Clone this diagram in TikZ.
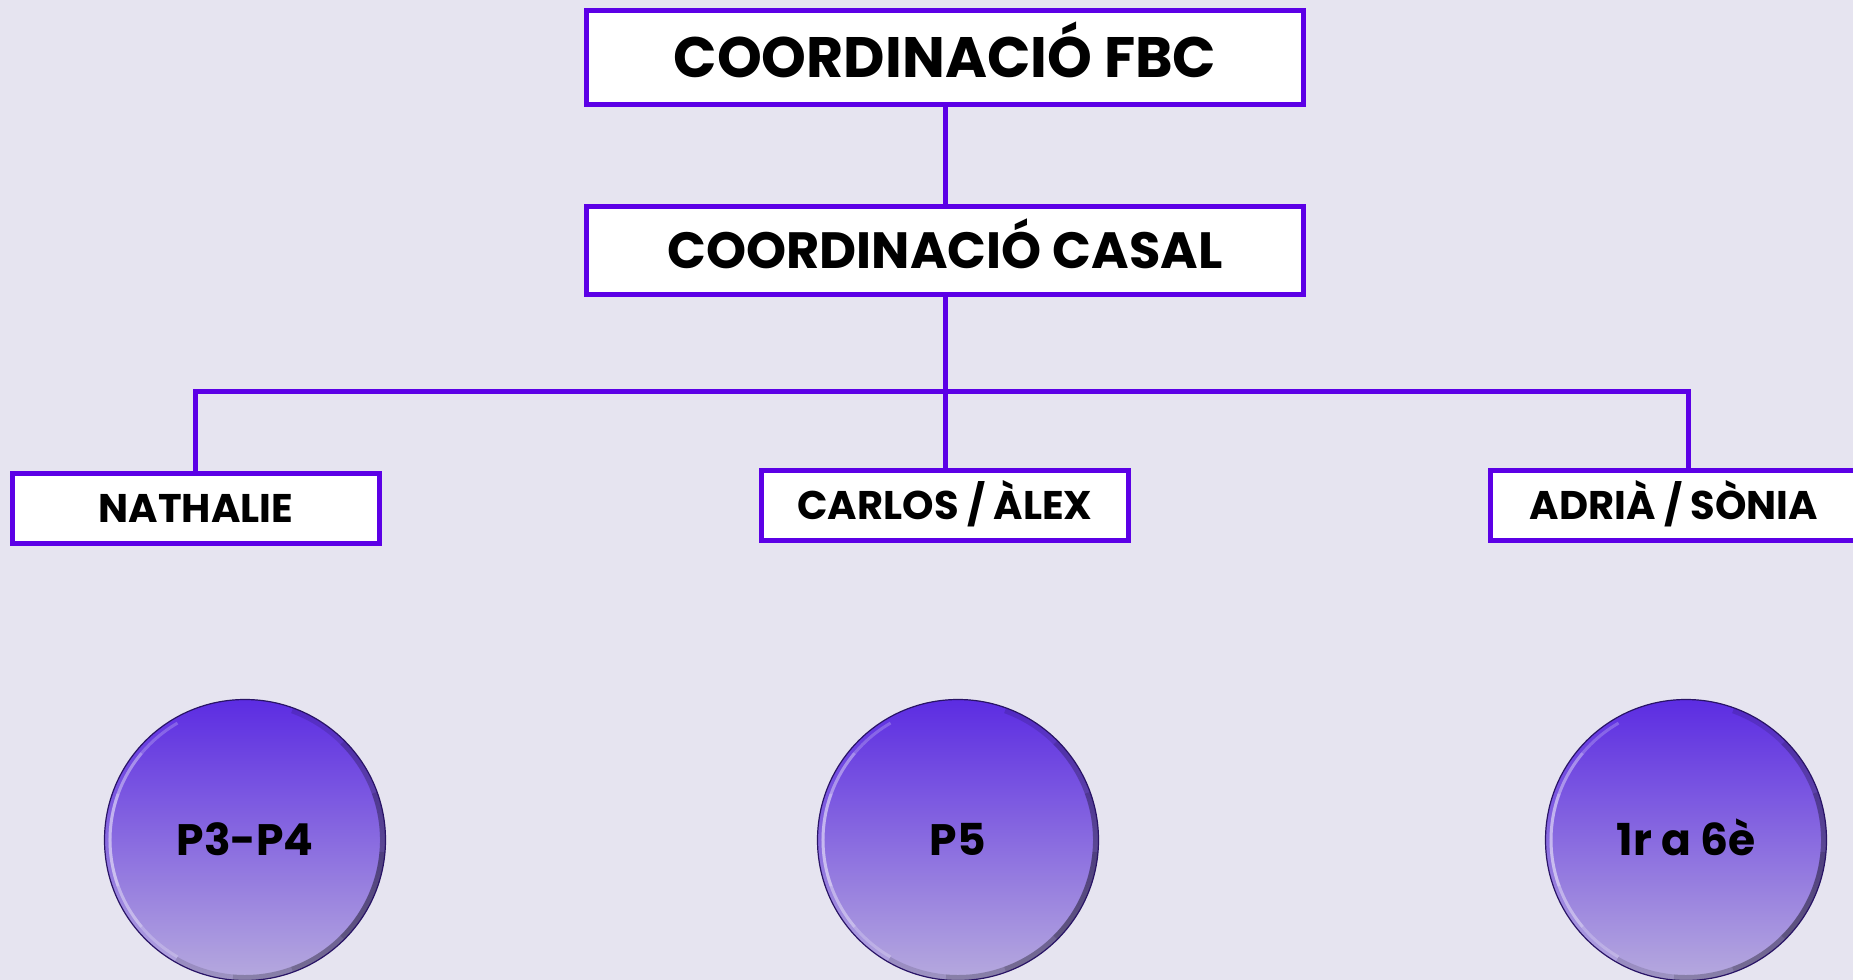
\documentclass[tikz,border=0pt]{standalone}
\usepackage{fontspec}
\setmainfont{Poppins}
\definecolor{bgcol}{RGB}{230,228,240}
\definecolor{linecol}{RGB}{92,0,230}
\definecolor{balltop}{RGB}{92,44,226}
\definecolor{ballbot}{RGB}{182,170,222}
\tikzset{
  orgbox/.style={draw=linecol, line width=5pt, fill=white, inner sep=0pt, text depth=0pt},
  headbox/.style={orgbox, minimum width=717pt, text height=40pt, font=\bfseries\fontsize{57}{60}\selectfont},
  namebox/.style={orgbox, minimum width=367pt, minimum height=70pt, text height=28pt, font=\bfseries\fontsize{40}{42}\selectfont},
  ball/.style={circle, minimum size=281pt, inner sep=0pt, top color=balltop, bottom color=ballbot,
    draw=black!55!balltop, line width=1.2pt, text height=31pt, text depth=0pt, font=\bfseries\fontsize{44}{46}\selectfont,
    path picture={
      \foreach \w in {20,40,60} {
        \draw[white, opacity=.22, line width=3pt] (path picture bounding box.center) ++(180+\w:135pt) arc (180+\w:180-\w:135pt);
      }
      \foreach \w in {20,45,70,95} {
        \draw[black, opacity=.13, line width=6pt] (path picture bounding box.center) ++(-25+\w:138pt) arc (-25+\w:-25-\w:138pt);
      }
    }},
  wire/.style={draw=linecol, line width=5pt}
}
\begin{document}
\begin{tikzpicture}[x=1pt, y=-1pt]
\clip (0,0) rectangle (1853,980);
\fill[bgcol] (0,0) rectangle (1853,980);
% coordination levels
\node[headbox, minimum height=94pt] (fbc) at (945,57) {COORDINACIÓ FBC};
\node[headbox, minimum height=88pt, font=\bfseries\fontsize{51}{54}\selectfont, text height=36pt] (casal) at (945,250.5) {COORDINACIÓ CASAL};
% monitors
\node[namebox] (nathalie) at (196,508.5) {NATHALIE};
\node[namebox] (carlos) at (945,505.5) {CARLOS / ÀLEX};
\node[namebox] (adria) at (1674,505.5) {ADRIÀ / SÒNIA};
\coordinate (busL) at (195.5,391);
\coordinate (busR) at (1688,391);
\path[wire]
(fbc) -- (casal)
(casal) -- (carlos);
\draw[wire] (busL |- nathalie.north) -- (busL) -- (busR) -- (busR |- adria.north);
% groups
\node[ball] (p34) at (245,840) {P3-P4};
\node[ball] (p5) at (958,840) {P5};
\node[ball] (prim) at (1686,840) {1r a 6è};
\end{tikzpicture}
\end{document}
